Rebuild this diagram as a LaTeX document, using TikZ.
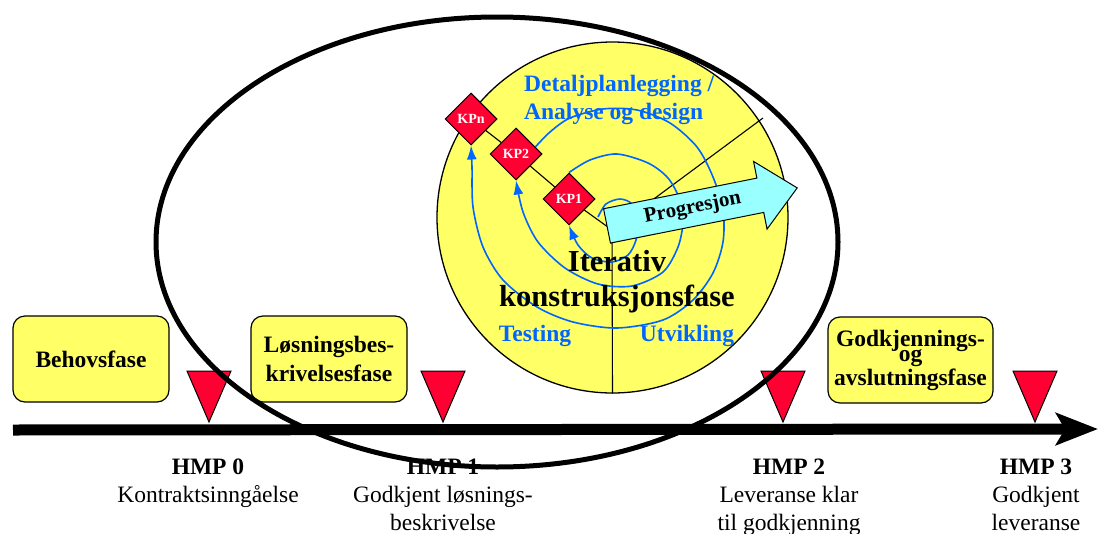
\documentclass[tikz,border=0pt]{standalone}
\usepackage{fontspec}
\setmainfont{Liberation Serif}
\usetikzlibrary{shapes.geometric,shapes.arrows,arrows.meta,positioning}
\definecolor{fasegul}{RGB}{255,255,102}
\definecolor{kprod}{RGB}{255,0,51}
\definecolor{spiralblaa}{RGB}{0,102,255}
\definecolor{progcyan}{RGB}{153,255,255}

\begin{document}
\begin{tikzpicture}[x=1pt,y=-1pt,
        fasebox/.style={draw,line width=1.2pt,fill=fasegul,rounded corners=12pt,minimum width=156pt,minimum height=86pt,inner sep=0pt,align=center,font=\bfseries\fontsize{23.5}{29}\selectfont},
        kp/.style={diamond,draw,line width=1pt,fill=kprod,minimum size=52pt,inner sep=0pt,text=white,font=\bfseries\fontsize{14}{16}\selectfont},
        spoke/.style={line width=1.1pt},
        spiral/.style={spiralblaa,line width=1.6pt,-{Latex[length=14pt,width=10pt]}},
        bluetext/.style={text=spiralblaa,inner sep=0pt,font=\bfseries\fontsize{23.5}{28}\selectfont},
        hmpmark/.style={draw,line width=1pt,fill=kprod},
        hmp/.style={anchor=north,align=center,inner sep=0pt,font=\fontsize{23.5}{28}\selectfont}]
    \useasboundingbox (0,0) rectangle (1098,533);

    % iterativ fase
    \node[circle,draw,line width=1.3pt,fill=fasegul,minimum size=351pt,inner sep=0pt] (fase) at (612.5,217.5) {};
    \coordinate (o) at (612,230);
    \coordinate (spoke_ne) at (763,118);
    \node[kp] (kp_1) at (569,199) {KP1};
    \node[kp] (kp_2) at (516,154) {KP2};
    \node[kp] (kp_n) at (471,119) {KPn};
    \draw[spoke] (o) -- (kp_1) -- (kp_2) -- (kp_n);
    \draw[spoke] (o) -- (spoke_ne);
    \draw[spoke] (o) -- (fase.south);

    \coordinate (s_0) at (598,217);
    \draw[spiral] plot[smooth] coordinates {(s_0) (606,204) (620,199) (632,204) (638,220) (636,240) (628,255) (612,262) (592,258) (578,245) (kp_1.south)};
    \draw[spiral] plot[smooth] coordinates {(kp_1.north) (590,160) (617,154) (648,163) (668,178) (680,200) (683,222) (678,247) (663,272) (632,286) (598,284) (565,268) (538,242) (523,212) (kp_2.south)};
    \draw[spiral] plot[smooth] coordinates {(kp_2.20) (550,132) (570,118) (603,109) (637,110) (670,123) (697,147) (713,177) (723,210) (723,242) (713,273) (693,300) (663,320) (617,328) (573,322) (537,307) (503,280) (483,247) (473,207) (472,167) (kp_n.south)};

    \node[single arrow,draw,line width=1pt,fill=progcyan,single arrow head extend=17pt,single arrow tip angle=85,
        minimum height=194pt,text height=14pt,text depth=5pt,inner ysep=7.5pt,
        font=\bfseries\fontsize{21}{24}\selectfont,rotate=11.3,anchor=tail] (prog) at (606.5,226) {Progresjon};

    \node[bluetext,align=left,anchor=north west] (detalj) at (524,75) {Detaljplanlegging /\\Analyse og design};
    \node[inner sep=0pt,align=center,font=\bfseries\fontsize{30.5}{35}\selectfont] (iterativ) at (617,282) {Iterativ\\konstruksjonsfase};
    \node[bluetext,anchor=base] (testing) at (535,341) {Testing};
    \node[bluetext,anchor=base] (utvikling) at (687,341) {Utvikling};

    % faser og milepaeler
    \node[fasebox] (behov) at (91,359) {Behovsfase};
    \node[fasebox] (losning) at (329,359) {Løsningsbes-\\krivelsesfase};
    \node[fasebox,minimum width=165pt] (godkjenning) at (910.5,360) {Godkjennings-\\[-14pt]og\\[-5pt]avslutningsfase};

    \coordinate (t_0) at (209,422);
    \coordinate (t_1) at (443,422);
    \coordinate (t_2) at (783,422);
    \coordinate (t_3) at (1035,422);
    \foreach \t in {t_0,t_1,t_2,t_3}
        \filldraw[hmpmark] (\t) -- ++(-22,-51) -- ++(44,0) -- cycle;

    \coordinate (tl_start) at (13,430);
    \coordinate (tl_end) at (1098,429);
    \draw[line width=11pt,-{Stealth[length=42pt,width=32pt,inset=9pt]}] (tl_start) -- (tl_end);

    \node[hmp] (hmp_0) at (208,459) {\textbf{HMP 0}\\Kontraktsinngåelse};
    \node[hmp] (hmp_1) at (443,459) {\textbf{HMP 1}\\Godkjent løsnings-\\beskrivelse};
    \node[hmp] (hmp_2) at (789,459) {\textbf{HMP 2}\\Leveranse klar\\til godkjenning};
    \node[hmp] (hmp_3) at (1036,459) {\textbf{HMP 3}\\Godkjent\\leveranse};

    % prosjektramme
    \draw[line width=5pt] (497,242) ellipse [x radius=341, y radius=225];
\end{tikzpicture}
\end{document}
